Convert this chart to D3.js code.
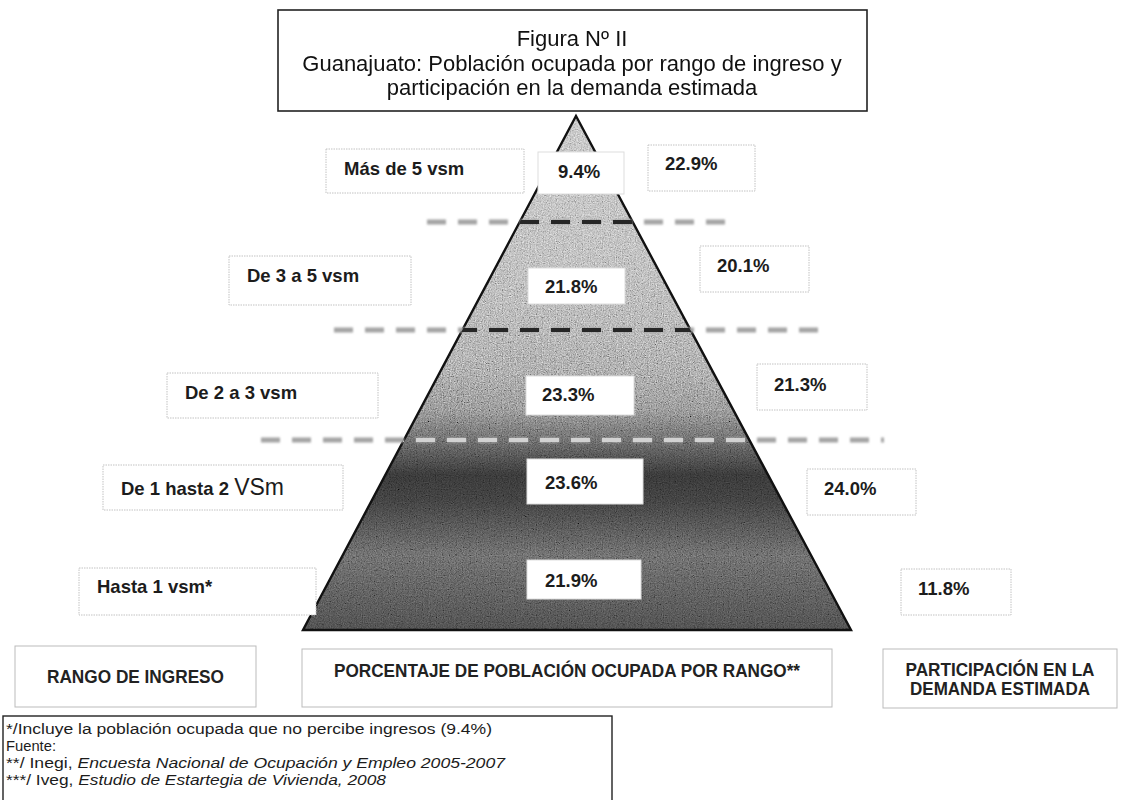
<!DOCTYPE html>
<html>
<head>
<meta charset="utf-8">
<script src="https://cdn.jsdelivr.net/npm/d3@7"></script>
<style>
  body { margin: 0; background: #fff; }
  svg { display: block; font-family: "Liberation Sans", Arial, sans-serif; }
</style>
</head>
<body>
<div id="chart"></div>
<script>
// data
const ranges = ["Más de 5 vsm", "De 3 a 5 vsm", "De 2 a 3 vsm", "De 1 hasta 2 vsm", "Hasta 1 vsm*"];
const poblacion = [9.4, 21.8, 23.3, 23.6, 21.9];   // % población ocupada por rango
const demanda = [22.9, 20.1, 21.3, 24.0, 11.8];    // % participación en la demanda estimada
const titleLines = ["Figura Nº II",
                    "Guanajuato: Población ocupada por rango de ingreso y",
                    "participación en la demanda estimada"];
const headers = [["RANGO DE INGRESO"],
                 ["PORCENTAJE DE POBLACIÓN OCUPADA POR RANGO**"],
                 ["PARTICIPACIÓN EN LA", "DEMANDA ESTIMADA"]];
const notes = [["*/Incluye la población ocupada  que no percibe ingresos (9.4%)", ""],
               ["Fuente:", ""],
               ["**/ Inegi, ", "Encuesta Nacional de Ocupación y  Empleo 2005-2007"],
               ["***/ Iveg, ", "Estudio de Estartegia de Vivienda, 2008"]];

// layout: the original boxes are staggered row by row
const leftX = [326, 229, 167, 103, 79], leftW = [198, 182, 211, 240, 237], leftH = [44, 49, 45, 45, 47];
const leftDy = [-1, 2, 15, 3, 2], leftTy = [26, 26, 26, 30, 25];
const midX = [538, 528, 526, 527, 527], midW = [86, 97, 108, 116, 114], midH = [42, 36, 39, 45, 39];
const midDy = [1, 13, 17, -4, -7], midTx = [20, 17, 16, 18, 18], midTy = [26, 25, 25, 30, 27];
const rightX = [648, 700, 757, 807, 901], rightW = [107, 109, 110, 109, 110];
const rightDy = [-5, -8, 6, 7, 3], rightTy = [25, 26, 27, 26, 26];

const w = 1121, h = 800;
const apex = [576, 116], baseY = 630, baseL = 303, baseR = 851;

const svg = d3.select("#chart").append("svg").attr("width", w).attr("height", h);
const defs = svg.append("defs");

const fmt = d3.format(".1f");
const rowY = d3.scalePoint().domain(ranges).range([172, 588]);
const shade = d3.scaleLinear()
    .domain([116, 250, 330, 410, 440, 475, 500, 555, 630])
    .range(["#a9a9a9", "#9d9d9d", "#8e8e8e", "#727272", "#525252", "#2b2b2b", "#313131", "#535353", "#3c3c3c"]);

// gradient for the pyramid
const grad = defs.append("linearGradient").attr("id", "pyr")
    .attr("gradientUnits", "userSpaceOnUse")
    .attr("x1", 0).attr("x2", 0).attr("y1", apex[1]).attr("y2", baseY);
shade.domain().forEach(v => {
  grad.append("stop").attr("offset", (v - apex[1]) / (baseY - apex[1])).attr("stop-color", shade(v));
});

// scanned-print grain
const noise = defs.append("filter").attr("id", "noise").attr("x", 0).attr("y", 0).attr("width", 1).attr("height", 1);
noise.append("feTurbulence").attr("type", "fractalNoise").attr("baseFrequency", 0.85).attr("numOctaves", 2).attr("seed", 3);
noise.append("feColorMatrix").attr("type", "matrix")
    .attr("values", "0.6 0.6 0.6 0 -0.4  0.6 0.6 0.6 0 -0.4  0.6 0.6 0.6 0 -0.4  0 0 0 0 1");

defs.append("filter").attr("id", "blur").attr("filterUnits", "userSpaceOnUse")
    .attr("x", 0).attr("y", 0).attr("width", w).attr("height", h)
    .append("feGaussianBlur").attr("stdDeviation", 1);

const pyrPath = d3.line()([apex, [baseR, baseY], [baseL, baseY]]) + "Z";
defs.append("clipPath").attr("id", "clipPyr").append("path").attr("d", pyrPath);

// title box
svg.append("rect").attr("x", 278).attr("y", 10).attr("width", 589).attr("height", 101)
   .attr("fill", "#fff").attr("stroke", "#222").attr("stroke-width", 1.6);
svg.append("g").selectAll("text").data(titleLines).join("text")
   .attr("x", 572).attr("y", (d, i) => [46, 71, 95][i])
   .attr("text-anchor", "middle").attr("font-size", 22).attr("fill", "#111")
   .text(d => d);

// pyramid
svg.append("path").attr("d", pyrPath).attr("fill", "url(#pyr)");
svg.append("rect").attr("x", baseL).attr("y", apex[1]).attr("width", baseR - baseL).attr("height", baseY - apex[1])
   .attr("clip-path", "url(#clipPyr)").attr("filter", "url(#noise)")
   .style("mix-blend-mode", "overlay").attr("opacity", 0.85);
svg.append("path").attr("d", pyrPath).attr("fill", "none")
   .attr("stroke", "#111").attr("stroke-width", 2.4).attr("stroke-linejoin", "miter");

// dashed separators between rows (none between the two lowest rows)
const sepY = d3.pairs(ranges).slice(0, 3).map((p, i) => (rowY(p[0]) + rowY(p[1])) / 2 + [-2, 2, 8][i]);
const sepX = [[427, 735], [334, 820], [261, 884]];
const inner = ["#262626", "#262626", "#d2d2d2"];
const seps = svg.append("g");
sepY.forEach((y, i) => {
  seps.append("line").attr("x1", sepX[i][0]).attr("x2", sepX[i][1]).attr("y1", y).attr("y2", y)
      .attr("stroke", "#a4a4a4").attr("stroke-width", 5).attr("stroke-dasharray", "19,12")
      .attr("filter", "url(#blur)");
  seps.append("line").attr("x1", sepX[i][0]).attr("x2", sepX[i][1]).attr("y1", y).attr("y2", y)
      .attr("stroke", inner[i]).attr("stroke-width", 4).attr("stroke-dasharray", "19,12")
      .attr("clip-path", "url(#clipPyr)");
});

// left column: income ranges
const left = svg.append("g").selectAll("g").data(ranges).join("g")
   .attr("transform", (d, i) => `translate(${leftX[i]},${rowY(d) - 22 + leftDy[i]})`);
left.append("rect").attr("width", (d, i) => leftW[i]).attr("height", (d, i) => leftH[i])
   .attr("fill", "#fff").attr("stroke", "#c2c2c2").attr("stroke-dasharray", "1.5,1");
left.append("text").attr("x", 18).attr("y", (d, i) => leftTy[i])
   .attr("font-size", 18.5).attr("font-weight", "bold").attr("fill", "#1c1c1c")
   .each(function(d) {
     const t = d3.select(this);
     if (d.startsWith("De 1")) {
       t.append("tspan").text(d.replace("vsm", ""));
       t.append("tspan").attr("font-weight", "normal").attr("font-size", 23).text("VSm");
     } else t.text(d);
   });

// centre column: share of occupied population
const mid = svg.append("g").selectAll("g").data(poblacion).join("g")
   .attr("transform", (d, i) => `translate(${midX[i]},${rowY(ranges[i]) - 21 + midDy[i]})`);
mid.append("rect").attr("width", (d, i) => midW[i]).attr("height", (d, i) => midH[i])
   .attr("fill", "#fff").attr("stroke", "#ddd");
mid.append("text").attr("x", (d, i) => midTx[i]).attr("y", (d, i) => midTy[i])
   .attr("font-size", 18.5).attr("font-weight", "bold").attr("fill", "#1c1c1c")
   .text(d => fmt(d) + "%");

// right column: participation in estimated demand
const right = svg.append("g").selectAll("g").data(demanda).join("g")
   .attr("transform", (d, i) => `translate(${rightX[i]},${rowY(ranges[i]) - 22 + rightDy[i]})`);
right.append("rect").attr("width", (d, i) => rightW[i]).attr("height", 46)
   .attr("fill", "#fff").attr("stroke", "#c2c2c2").attr("stroke-dasharray", "1.5,1");
right.append("text").attr("x", 17).attr("y", (d, i) => rightTy[i])
   .attr("font-size", 18.5).attr("font-weight", "bold").attr("fill", "#1c1c1c")
   .text(d => fmt(d) + "%");

// column headers (condensed type, fitted to the original widths)
const headX = [15, 302, 883], headY = [646, 649, 649], headW = [241, 530, 234], headH = [61, 58, 59];
const headLen = [[177], [466], [189, 180]], headTy = [[37], [28], [27, 46]];
const head = svg.append("g").selectAll("g").data(headers).join("g")
   .attr("transform", (d, i) => `translate(${headX[i]},${headY[i]})`);
head.append("rect").attr("width", (d, i) => headW[i]).attr("height", (d, i) => headH[i])
   .attr("fill", "#fff").attr("stroke", "#bbb");
head.each(function(d, i) {
  d3.select(this).selectAll("text").data(d).join("text")
    .attr("x", headW[i] / 2).attr("y", (l, j) => headTy[i][j])
    .attr("text-anchor", "middle").attr("font-size", 17.5).attr("font-weight", "bold").attr("fill", "#222")
    .attr("textLength", (l, j) => headLen[i][j]).attr("lengthAdjust", "spacingAndGlyphs")
    .text(l => l);
});

// footnotes
const noteLen = [486, 50, 499, 380];
svg.append("rect").attr("x", 3).attr("y", 716).attr("width", 609).attr("height", 90)
   .attr("fill", "#fff").attr("stroke", "#222").attr("stroke-width", 1.4);
svg.append("g").selectAll("text").data(notes).join("text")
   .attr("x", 6).attr("y", (d, i) => 734 + i * 17)
   .attr("font-size", 15.5).attr("fill", "#1c1c1c")
   .attr("textLength", (d, i) => noteLen[i]).attr("lengthAdjust", "spacingAndGlyphs")
   .each(function(d) {
     const t = d3.select(this);
     t.append("tspan").text(d[0]);
     if (d[1]) t.append("tspan").attr("font-style", "italic").text(d[1]);
   });
</script>
</body>
</html>
